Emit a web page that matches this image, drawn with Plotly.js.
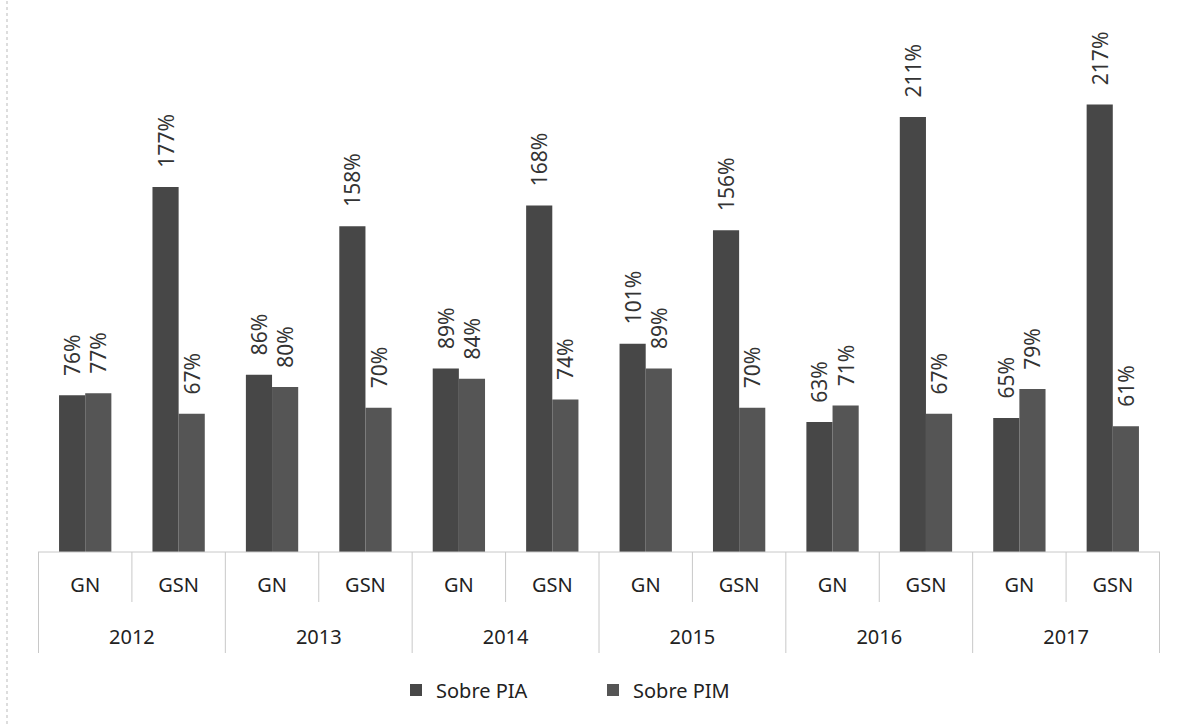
<!DOCTYPE html>
<html><head><meta charset="utf-8">
<script src="https://cdn.plot.ly/plotly-3.0.1.min.js"></script>
<style>html,body{margin:0;padding:0;background:#fff}#chart{width:1177px;height:727px}</style>
</head><body><div id="chart"></div>
<script>
const years = ['2012','2012','2013','2013','2014','2014','2015','2015','2016','2016','2017','2017'];
const groups = ['GN','GSN','GN','GSN','GN','GSN','GN','GSN','GN','GSN','GN','GSN'];
const sobrePIA = [76,177,86,158,89,168,101,156,63,211,65,217];
const sobrePIM = [77,67,80,70,84,74,89,70,71,67,79,61];
const seriesNames = ['Sobre PIA','Sobre PIM'];

const font = 'Noto Sans, Open Sans, sans-serif';
const PH = 532; // plot height in px
const lbl = s => '<span style="font-size:20px">' + s + '</span>';
const groupLabels = groups.map(g => lbl(g) + '<br>\u00a0');
const yearLabels = years.map(y => lbl(y));
function trace(vals, name, color){
  return {type:'bar', x:[yearLabels, groupLabels], y:vals, name:name,
    marker:{color:color},
    text: vals.map(v=>'\u00a0\u00a0\u00a0'+v+'%'), textposition:'outside', textangle:-90,
    constraintext:'none',
    textfont:{family:font,size:21,color:'#333'}, cliponaxis:false,
    hoverinfo:'skip'};
}
const data = [trace(sobrePIA, seriesNames[0], '#474747'), trace(sobrePIM, seriesNames[1], '#555555')];

const shapes = [];
const divColor = '#c8c8c8';
shapes.push({type:'line', xref:'paper', yref:'paper', x0:0, x1:1, y0:0, y1:0, line:{color:divColor, width:1}});
for (let i=0;i<=6;i++){
  shapes.push({type:'line', xref:'x', yref:'paper', x0:2*i-0.5, x1:2*i-0.5, y0:0, y1:-101/PH,
    line:{color:divColor, width:1}});
}
for (let i=0;i<6;i++){
  shapes.push({type:'line', xref:'x', yref:'paper', x0:2*i+0.5, x1:2*i+0.5, y0:0, y1:-50/PH,
    line:{color:divColor, width:1}});
}
shapes.push({type:'line', xref:'paper', yref:'paper', x0:-31/1122, x1:-31/1122, y0:-1, y1:2,
  line:{color:'#bbbbbb', width:1, dash:'dot'}});

const layout = {
  width:1177, height:727,
  margin:{l:38, r:17, t:20, b:175},
  paper_bgcolor:'#fff', plot_bgcolor:'#fff',
  barmode:'group', bargap:0.44, bargroupgap:0,
  showlegend:true,
  legend:{orientation:'h', x:0.5-6/1122, xanchor:'center', y:-138/PH, yanchor:'middle',
    font:{family:font, size:20, color:'#222'}, itemwidth:30, traceorder:'normal',
    entrywidth:152, entrywidthmode:'pixels'},
  xaxis:{type:'multicategory', showline:false,
    showdividers:false, ticklabelstandoff:13,
    tickfont:{family:font, size:26, color:'#222'}, ticks:'', showgrid:false},
  yaxis:{range:[0,258], visible:false, showgrid:false, zeroline:false},
  shapes:shapes
};
Plotly.newPlot('chart', data, layout, {displayModeBar:false, staticPlot:true});
</script></body></html>
